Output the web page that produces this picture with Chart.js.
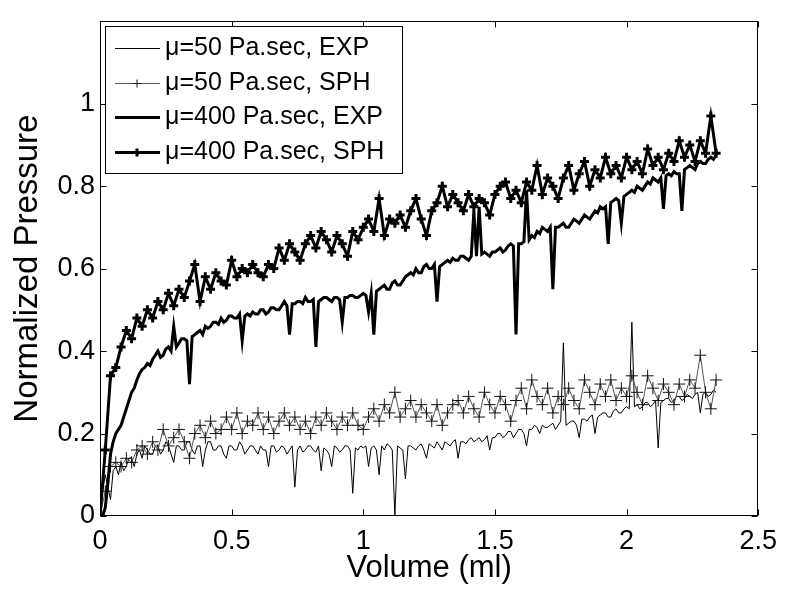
<!DOCTYPE html>
<html>
<head>
<meta charset="utf-8">
<script src="https://cdn.jsdelivr.net/npm/chart.js@4.4.1/dist/chart.umd.min.js"></script>
<style>
  html, body { margin: 0; padding: 0; background: #fff; }
  #wrap { width: 786px; height: 590px; }
</style>
</head>
<body>
<div id="wrap"><canvas id="pressureChart" width="786" height="590"></canvas></div>
<script>
// volume (ml) of the experiment samples
const volumeExp = [
  0, 0.01, 0.02, 0.03, 0.04, 0.05, 0.06, 0.07, 0.08, 0.09,
  0.1, 0.11, 0.12, 0.13, 0.14, 0.15, 0.16, 0.17, 0.18, 0.19,
  0.2, 0.21, 0.22, 0.23, 0.24, 0.25, 0.26, 0.27, 0.28, 0.29,
  0.3, 0.31, 0.32, 0.33, 0.34, 0.35, 0.36, 0.37, 0.38, 0.39,
  0.4, 0.41, 0.42, 0.43, 0.44, 0.45, 0.46, 0.47, 0.48, 0.49,
  0.5, 0.51, 0.52, 0.53, 0.54, 0.55, 0.56, 0.57, 0.58, 0.59,
  0.6, 0.61, 0.62, 0.63, 0.64, 0.65, 0.66, 0.67, 0.68, 0.69,
  0.7, 0.71, 0.72, 0.73, 0.74, 0.75, 0.76, 0.77, 0.78, 0.79,
  0.8, 0.81, 0.82, 0.83, 0.84, 0.85, 0.86, 0.87, 0.88, 0.89,
  0.9, 0.91, 0.92, 0.93, 0.94, 0.95, 0.96, 0.97, 0.98, 0.99,
  1, 1.01, 1.02, 1.03, 1.04, 1.05, 1.06, 1.07, 1.08, 1.09,
  1.1, 1.11, 1.12, 1.13, 1.14, 1.15, 1.16, 1.17, 1.18, 1.19,
  1.2, 1.21, 1.22, 1.23, 1.24, 1.25, 1.26, 1.27, 1.28, 1.29,
  1.3, 1.31, 1.32, 1.33, 1.34, 1.35, 1.36, 1.37, 1.38, 1.39,
  1.4, 1.41, 1.42, 1.43, 1.44, 1.45, 1.46, 1.47, 1.48, 1.49,
  1.5, 1.51, 1.52, 1.53, 1.54, 1.55, 1.56, 1.57, 1.58, 1.59,
  1.6, 1.61, 1.62, 1.63, 1.64, 1.65, 1.66, 1.67, 1.68, 1.69,
  1.7, 1.71, 1.72, 1.73, 1.74, 1.75, 1.76, 1.77, 1.78, 1.79,
  1.8, 1.81, 1.82, 1.83, 1.84, 1.85, 1.86, 1.87, 1.88, 1.89,
  1.9, 1.91, 1.92, 1.93, 1.94, 1.95, 1.96, 1.97, 1.98, 1.99,
  2, 2.01, 2.02, 2.03, 2.04, 2.05, 2.06, 2.07, 2.08, 2.09,
  2.1, 2.11, 2.12, 2.13, 2.14, 2.15, 2.16, 2.17, 2.18, 2.19,
  2.2, 2.21, 2.22, 2.23, 2.24, 2.25, 2.26, 2.27, 2.28, 2.29,
  2.3, 2.31, 2.32, 2.33, 2.34
];

// volume (ml) of the SPH samples
const volumeSph = [
  0, 0.02, 0.04, 0.06, 0.08, 0.1, 0.12, 0.14, 0.16, 0.18,
  0.2, 0.22, 0.24, 0.26, 0.28, 0.3, 0.32, 0.34, 0.36, 0.38,
  0.4, 0.42, 0.44, 0.46, 0.48, 0.5, 0.52, 0.54, 0.56, 0.58,
  0.6, 0.62, 0.64, 0.66, 0.68, 0.7, 0.72, 0.74, 0.76, 0.78,
  0.8, 0.82, 0.84, 0.86, 0.88, 0.9, 0.92, 0.94, 0.96, 0.98,
  1, 1.02, 1.04, 1.06, 1.08, 1.1, 1.12, 1.14, 1.16, 1.18,
  1.2, 1.22, 1.24, 1.26, 1.28, 1.3, 1.32, 1.34, 1.36, 1.38,
  1.4, 1.42, 1.44, 1.46, 1.48, 1.5, 1.52, 1.54, 1.56, 1.58,
  1.6, 1.62, 1.64, 1.66, 1.68, 1.7, 1.72, 1.74, 1.76, 1.78,
  1.8, 1.82, 1.84, 1.86, 1.88, 1.9, 1.92, 1.94, 1.96, 1.98,
  2, 2.02, 2.04, 2.06, 2.08, 2.1, 2.12, 2.14, 2.16, 2.18,
  2.2, 2.22, 2.24, 2.26, 2.28, 2.3, 2.32, 2.34
];

// mu = 50 Pa.sec, experiment
const exp50 = [
  0, 0.06, 0.10, 0.07, 0.04, 0.11, 0.12, 0.10, 0.13, 0.11,
  0.12, 0.14, 0.14, 0.12, 0.15, 0.16, 0.14, 0.17, 0.16, 0.15,
  0.15, 0.17, 0.17, 0.15, 0.16, 0.18, 0.17, 0.15, 0.13, 0.17,
  0.17, 0.16, 0.16, 0.18, 0.18, 0.16, 0.15, 0.17, 0.17, 0.12,
  0.16, 0.18, 0.18, 0.16, 0.16, 0.17, 0.17, 0.15, 0.14, 0.17,
  0.17, 0.16, 0.16, 0.18, 0.17, 0.15, 0.16, 0.17, 0.17, 0.16,
  0.15, 0.17, 0.16, 0.16, 0.12, 0.17, 0.17, 0.155, 0.16, 0.17,
  0.165, 0.15, 0.16, 0.17, 0.07, 0.16, 0.17, 0.155, 0.16, 0.17,
  0.17, 0.16, 0.155, 0.17, 0.11, 0.165, 0.16, 0.15, 0.12, 0.17,
  0.165, 0.155, 0.16, 0.17, 0.17, 0.16, 0.055, 0.165, 0.16, 0.17,
  0.165, 0.17, 0.12, 0.165, 0.17, 0.16, 0.10, 0.17, 0.16, 0.175,
  0.17, 0.16, 0.0, 0.17, 0.165, 0.16, 0.09, 0.17, 0.17, 0.165,
  0.16, 0.17, 0.175, 0.16, 0.14, 0.175, 0.17, 0.165, 0.18, 0.17,
  0.16, 0.18, 0.175, 0.17, 0.18, 0.185, 0.14, 0.18, 0.18, 0.175,
  0.185, 0.19, 0.18, 0.185, 0.19, 0.18, 0.185, 0.195, 0.16, 0.19,
  0.19, 0.2, 0.2, 0.19, 0.195, 0.205, 0.205, 0.19, 0.2, 0.21,
  0.21, 0.2, 0.17, 0.21, 0.21, 0.22, 0.215, 0.2, 0.22, 0.215,
  0.215, 0.22, 0.225, 0.21, 0.22, 0.23, 0.42, 0.22, 0.225, 0.23,
  0.23, 0.22, 0.19, 0.235, 0.235, 0.23, 0.24, 0.245, 0.2, 0.24,
  0.245, 0.25, 0.25, 0.24, 0.24, 0.255, 0.26, 0.25, 0.25, 0.26,
  0.265, 0.26, 0.47, 0.265, 0.27, 0.26, 0.265, 0.275, 0.275, 0.265,
  0.27, 0.28, 0.165, 0.275, 0.28, 0.285, 0.285, 0.275, 0.28, 0.29,
  0.29, 0.28, 0.285, 0.295, 0.29, 0.285, 0.295, 0.3, 0.25, 0.295,
  0.3, 0.29, 0.295, 0.305, 0.3
];

// mu = 50 Pa.sec, SPH
const sph50 = [
  0, 0.06, 0.12, 0.13, 0.12, 0.14, 0.13, 0.16, 0.17, 0.15,
  0.18, 0.16, 0.21, 0.17, 0.19, 0.21, 0.18, 0.14, 0.20, 0.22,
  0.19, 0.23, 0.20, 0.21, 0.24, 0.21, 0.25, 0.20, 0.23, 0.22,
  0.25, 0.21, 0.24, 0.20, 0.23, 0.25, 0.22, 0.24, 0.21, 0.23,
  0.20, 0.24, 0.22, 0.25, 0.23, 0.21, 0.24, 0.22, 0.25, 0.22,
  0.21, 0.24, 0.26, 0.23, 0.27, 0.25, 0.30, 0.24, 0.26, 0.28,
  0.24, 0.27, 0.25, 0.23, 0.27, 0.22, 0.25, 0.27, 0.28, 0.25,
  0.29, 0.26, 0.24, 0.30, 0.27, 0.25, 0.29, 0.27, 0.23, 0.28,
  0.31, 0.26, 0.33, 0.29, 0.27, 0.31, 0.25, 0.29, 0.27, 0.31,
  0.28, 0.26, 0.33, 0.30, 0.27, 0.32, 0.29, 0.33, 0.28, 0.31,
  0.29, 0.34, 0.30, 0.27, 0.34, 0.31, 0.28, 0.32, 0.30, 0.27,
  0.32, 0.29, 0.33, 0.31, 0.39, 0.30, 0.26, 0.33
];

// mu = 400 Pa.sec, experiment
const exp400 = [
  0, 0.0, 0.02, 0.08, 0.15, 0.18, 0.20, 0.21, 0.22, 0.24,
  0.26, 0.28, 0.30, 0.31, 0.33, 0.345, 0.355, 0.36, 0.37, 0.365,
  0.38, 0.39, 0.40, 0.385, 0.39, 0.405, 0.41, 0.40, 0.46, 0.41,
  0.42, 0.43, 0.43, 0.425, 0.32, 0.435, 0.44, 0.445, 0.45, 0.44,
  0.46, 0.455, 0.46, 0.47, 0.47, 0.465, 0.48, 0.47, 0.475, 0.485,
  0.485, 0.48, 0.48, 0.49, 0.425, 0.485, 0.49, 0.485, 0.495, 0.49,
  0.49, 0.50, 0.50, 0.49, 0.495, 0.505, 0.505, 0.50, 0.50, 0.51,
  0.52, 0.51, 0.44, 0.515, 0.515, 0.52, 0.52, 0.515, 0.53, 0.52,
  0.52, 0.525, 0.41, 0.52, 0.525, 0.53, 0.53, 0.525, 0.52, 0.53,
  0.53, 0.525, 0.47, 0.53, 0.53, 0.535, 0.535, 0.53, 0.53, 0.535,
  0.54, 0.535, 0.495, 0.54, 0.44, 0.545, 0.55, 0.555, 0.56, 0.55,
  0.55, 0.565, 0.57, 0.56, 0.56, 0.57, 0.58, 0.585, 0.59, 0.585,
  0.60, 0.59, 0.59, 0.605, 0.61, 0.60, 0.60, 0.61, 0.52, 0.605,
  0.61, 0.615, 0.62, 0.615, 0.625, 0.62, 0.62, 0.63, 0.63, 0.625,
  0.62, 0.63, 0.74, 0.63, 0.75, 0.635, 0.64, 0.635, 0.63, 0.64,
  0.64, 0.645, 0.65, 0.64, 0.645, 0.655, 0.66, 0.655, 0.44, 0.66,
  0.66, 0.665, 0.79, 0.67, 0.68, 0.675, 0.69, 0.685, 0.70, 0.695,
  0.69, 0.70, 0.55, 0.70, 0.70, 0.705, 0.71, 0.70, 0.70, 0.71,
  0.72, 0.715, 0.71, 0.72, 0.73, 0.725, 0.72, 0.73, 0.74, 0.735,
  0.75, 0.745, 0.75, 0.66, 0.76, 0.765, 0.77, 0.765, 0.71, 0.775,
  0.78, 0.785, 0.79, 0.785, 0.80, 0.795, 0.79, 0.80, 0.81, 0.805,
  0.82, 0.815, 0.81, 0.82, 0.745, 0.825, 0.83, 0.825, 0.835, 0.83,
  0.83, 0.74, 0.84, 0.845, 0.85, 0.845, 0.84, 0.855, 0.86, 0.855,
  0.855, 0.865, 0.87, 0.865, 0.875
];

// mu = 400 Pa.sec, SPH
const sph400 = [
  0, 0.16, 0.34, 0.36, 0.41, 0.45, 0.43, 0.48, 0.46, 0.50,
  0.48, 0.52, 0.50, 0.54, 0.51, 0.55, 0.53, 0.57, 0.61, 0.52,
  0.58, 0.55, 0.59, 0.57, 0.56, 0.62, 0.58, 0.60, 0.59, 0.61,
  0.59, 0.58, 0.61, 0.60, 0.65, 0.62, 0.66, 0.64, 0.62, 0.66,
  0.68, 0.65, 0.69, 0.67, 0.64, 0.68, 0.66, 0.63, 0.69, 0.67,
  0.70, 0.72, 0.69, 0.77, 0.68, 0.72, 0.71, 0.73, 0.70, 0.74,
  0.77, 0.72, 0.68, 0.74, 0.76, 0.80, 0.75, 0.78, 0.76, 0.74,
  0.78, 0.75, 0.77, 0.76, 0.73, 0.78, 0.80, 0.81, 0.77, 0.79,
  0.76, 0.81, 0.79, 0.85, 0.78, 0.82, 0.80, 0.77, 0.82, 0.85,
  0.79, 0.83, 0.86, 0.80, 0.84, 0.82, 0.87, 0.83, 0.85, 0.82,
  0.87, 0.84, 0.86, 0.83, 0.89, 0.85, 0.87, 0.84, 0.88, 0.86,
  0.91, 0.87, 0.90, 0.86, 0.91, 0.88, 0.97, 0.88
];

const seriesLabels = ["μ=50 Pa.sec, EXP", "μ=50 Pa.sec, SPH", "μ=400 Pa.sec, EXP", "μ=400 Pa.sec, SPH"];
const xTicks = [0, 0.5, 1, 1.5, 2, 2.5];
const yTicks = [0, 0.2, 0.4, 0.6, 0.8, 1];

const FONT = "'Liberation Sans', Arial, Helvetica, sans-serif";
Chart.defaults.font.family = FONT;
Chart.defaults.color = "#000";

function toPoints(xs, ys) {
  return xs.map((v, i) => ({ x: v, y: ys[i] }));
}

// matlab style box with inward ticks on all four sides
const axesBox = {
  id: "axesBox",
  afterDatasetsDraw(chart) {
    const { ctx, chartArea: a, scales } = chart;
    const L = Math.round(a.left) + 0.5, R = Math.round(a.right) - 0.5;
    const T = Math.round(a.top) + 0.5, B = Math.round(a.bottom) - 0.5;
    const len = 6;
    ctx.save();
    ctx.strokeStyle = "#000";
    ctx.lineWidth = 1;
    ctx.beginPath();
    xTicks.forEach((v) => {
      const px = Math.round(scales.x.getPixelForValue(v)) + 0.5;
      ctx.moveTo(px, B); ctx.lineTo(px, B - len);
      ctx.moveTo(px, T); ctx.lineTo(px, T + len);
    });
    yTicks.forEach((v) => {
      const py = Math.round(scales.y.getPixelForValue(v)) + 0.5;
      ctx.moveTo(L, py); ctx.lineTo(L + len, py);
      ctx.moveTo(R, py); ctx.lineTo(R - len, py);
    });
    ctx.stroke();
    ctx.strokeRect(L, T, R - L, B - T);
    ctx.restore();
  }
};

// legend box in the upper left corner of the axes
const legendBox = {
  id: "legendBox",
  afterDatasetsDraw(chart) {
    const { ctx, chartArea: a } = chart;
    const x0 = Math.round(a.left) + 5, y0 = Math.round(a.top) + 5;
    const w = 297, h = 147, rowH = 34.7;
    ctx.save();
    ctx.fillStyle = "#fff";
    ctx.fillRect(x0, y0, w, h);
    ctx.strokeStyle = "#000";
    ctx.lineWidth = 1;
    ctx.strokeRect(x0 + 0.5, y0 + 0.5, w, h);
    ctx.font = "25px " + FONT;
    ctx.textBaseline = "middle";
    ctx.textAlign = "left";
    chart.data.datasets.forEach((ds, i) => {
      const ry = Math.round(y0 + 22 + i * rowH) + 0.5;
      ctx.strokeStyle = ds.borderColor;
      ctx.lineWidth = ds.borderWidth;
      ctx.beginPath();
      ctx.moveTo(x0 + 10, ry);
      ctx.lineTo(x0 + 55, ry);
      ctx.stroke();
      if (ds.pointRadius > 0) {
        const cx = x0 + 32, r = 4;
        ctx.strokeStyle = ds.pointBorderColor;
        ctx.lineWidth = ds.pointBorderWidth;
        ctx.beginPath();
        ctx.moveTo(cx - r, ry); ctx.lineTo(cx + r, ry);
        ctx.moveTo(cx, ry - r); ctx.lineTo(cx, ry + r);
        ctx.stroke();
      }
      ctx.fillStyle = "#000";
      ctx.fillText(ds.label, x0 + 60, ry);
    });
    ctx.restore();
  }
};

new Chart(document.getElementById("pressureChart").getContext("2d"), {
  type: "line",
  data: {
    datasets: [
      {
        label: seriesLabels[0],
        data: toPoints(volumeExp, exp50),
        borderColor: "#000",
        borderWidth: 1,
        pointRadius: 0,
        order: 4,
      },
      {
        label: seriesLabels[1],
        data: toPoints(volumeSph, sph50),
        borderColor: "#555",
        borderWidth: 1,
        pointStyle: "cross",
        pointRadius: 6,
        pointBorderWidth: 1,
        pointBorderColor: "#111",
        order: 3,
      },
      {
        label: seriesLabels[2],
        data: toPoints(volumeExp, exp400),
        borderColor: "#000",
        borderWidth: 3,
        pointRadius: 0,
        order: 2,
      },
      {
        label: seriesLabels[3],
        data: toPoints(volumeSph, sph400),
        borderColor: "#000",
        borderWidth: 3,
        pointStyle: "cross",
        pointRadius: 4.5,
        pointBorderWidth: 3,
        pointBorderColor: "#000",
        order: 1,
      },
    ],
  },
  options: {
    responsive: false,
    animation: false,
    events: [],
    layout: { padding: { left: 0, right: 25, top: 3, bottom: 0 } },
    elements: { line: { tension: 0 } },
    plugins: {
      legend: { display: false },
      tooltip: { enabled: false },
    },
    scales: {
      x: {
        type: "linear",
        min: 0,
        max: 2.5,
        grid: { display: false, drawTicks: false },
        border: { display: false },
        afterBuildTicks: (s) => { s.ticks = xTicks.map((v) => ({ value: v })); },
        afterFit: (s) => { s.height = 74; },
        ticks: { padding: 9, maxRotation: 0, autoSkip: false, font: { size: 27 }, callback: (v) => String(v) },
        title: { display: true, text: "Volume (ml)", font: { size: 31 }, padding: { top: 0, bottom: 3 } },
      },
      y: {
        type: "linear",
        min: 0,
        max: 1.2,
        grid: { display: false, drawTicks: false },
        border: { display: false },
        afterBuildTicks: (s) => { s.ticks = yTicks.map((v) => ({ value: v })); },
        afterFit: (s) => { s.width = 100; },
        ticks: { padding: 5, autoSkip: false, font: { size: 27 }, callback: (v) => String(v) },
        title: { display: true, text: "Normalized Pressure", font: { size: 33 }, padding: { top: 8, bottom: 0 } },
      },
    },
  },
  plugins: [axesBox, legendBox],
});
</script>
</body>
</html>
